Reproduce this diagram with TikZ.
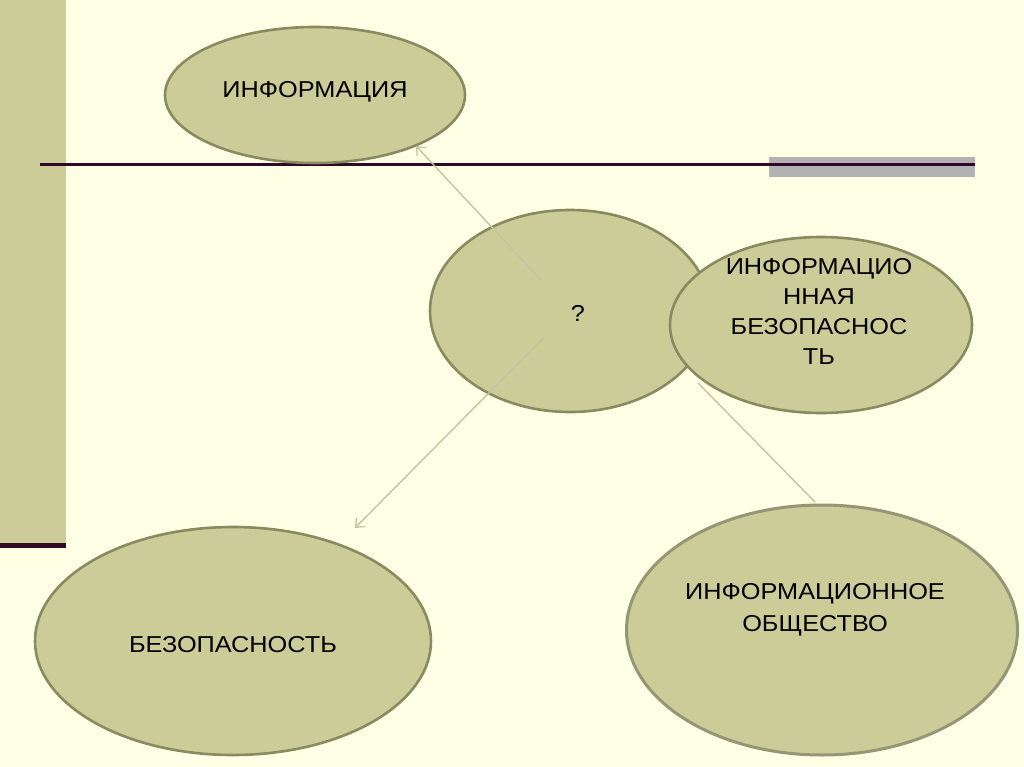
\documentclass[tikz,border=0pt]{standalone}
\usepackage{fontspec}
\newfontfamily\slidefont[FakeStretch=1.1]{Liberation Sans}
\usetikzlibrary{shapes.geometric,arrows.meta}
\definecolor{bgcol}{RGB}{255,255,229}
\definecolor{olive}{RGB}{204,204,153}
\definecolor{oliveedge}{RGB}{138,138,96}
\definecolor{softedge}{RGB}{150,150,118}
\definecolor{darkline}{RGB}{48,8,40}
\definecolor{graybar}{RGB}{178,178,178}
\definecolor{conncol}{RGB}{196,196,160}
\tikzset{
  bubble/.style={ellipse, draw=oliveedge, line width=2.6pt, fill=olive, inner sep=0pt},
  lbl/.style={font=\slidefont\fontsize{23}{30}\selectfont, text=black, align=center, inner sep=0pt},
  conn/.style={draw=conncol, line width=1.4pt},
  tip/.style={-{Straight Barb[length=7pt,width=12pt,line width=1.3pt]}}
}
\begin{document}
\begin{tikzpicture}[x=1pt,y=-1pt]
\useasboundingbox (0,0) rectangle (1024,767);
\fill[bgcol] (0,0) rectangle (1024,767);
% left bar
\fill[olive] (0,0) rectangle (66,545);
\fill[darkline] (0,543) rectangle (66,548);
% top rule
\fill[graybar] (769,157) rectangle (975,177);
\fill[darkline] (40,163.5) rectangle (975,166.5);
% ellipses
\node[bubble, minimum width=300pt, minimum height=136pt] (info) at (315,95) {};
\node[lbl, anchor=base] (infot) at (315,98) {ИНФОРМАЦИЯ};
\node[bubble, minimum width=280pt, minimum height=202pt] (q) at (570,311) {};
\node[lbl, anchor=base] (qt) at (578,321) {?};
\node[bubble, minimum width=302pt, minimum height=176pt] (ib) at (821,325) {};
\node[lbl] (ibt) at (819,311) {ИНФОРМАЦИО\\ННАЯ\\БЕЗОПАСНОС\\ТЬ};
\node[bubble, minimum width=396pt, minimum height=228pt] (bez) at (233,641) {};
\node[lbl, anchor=base] (bezt) at (233,652) {БЕЗОПАСНОСТЬ};
\node[bubble, draw=softedge, line width=3pt, minimum width=391pt, minimum height=250pt] (io) at (822,630) {};
\node[lbl, font=\slidefont\fontsize{23}{32}\selectfont] (iot) at (815,610) {ИНФОРМАЦИОННОЕ\\ОБЩЕСТВО};
% connectors
\coordinate (e1) at (416,146);
\coordinate (e2) at (355,528);
\coordinate (s3) at (698,383);
\coordinate (e3) at (815,502);
\draw[conn, tip, shorten <=42pt] (q.center) -- (e1);
\draw[conn, tip, shorten <=38pt] (q.center) -- (e2);
\draw[conn] (s3) -- (e3);
\end{tikzpicture}
\end{document}
